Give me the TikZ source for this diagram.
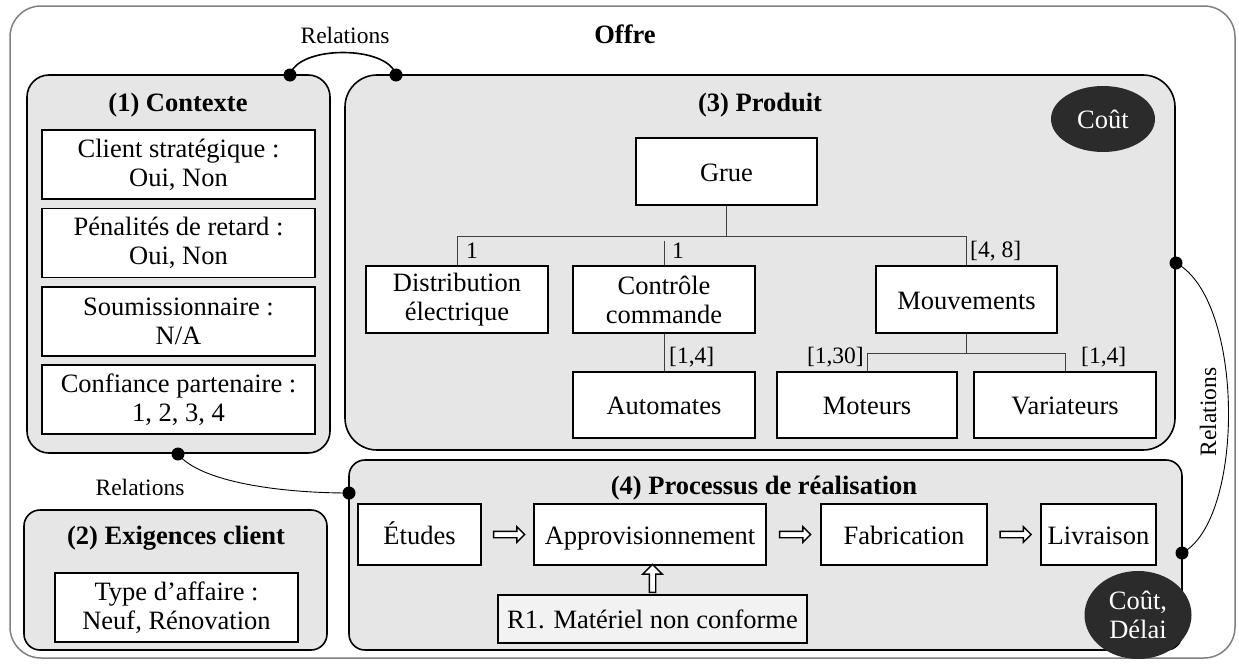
\documentclass[tikz,border=0pt]{standalone}
\usepackage{fontspec}
\setmainfont{Liberation Serif}
\usetikzlibrary{shapes.geometric,shapes.arrows,calc}
\definecolor{panelgray}{HTML}{E6E6E6}
\definecolor{outergray}{HTML}{808080}
\definecolor{darkell}{HTML}{2B2B2B}
\definecolor{linegray}{HTML}{404040}
\definecolor{riskfill}{HTML}{F2F2F2}
\begin{document}
\begin{tikzpicture}[x=1pt,y=-1pt,
  mainfont/.style={font=\fontsize{26.5}{29}\selectfont},
  smallfont/.style={font=\fontsize{23.5}{26}\selectfont},
  panel/.style={draw=black,line width=1.6pt,fill=panelgray,inner sep=0pt},
  itembox/.style={draw=black,line width=1.6pt,fill=white,inner sep=0pt,align=center,mainfont},
  oneline/.style={text height=24pt,text depth=5pt},
  ptitle/.style={font=\fontsize{26.5}{29}\selectfont\bfseries,inner sep=0pt},
  treeline/.style={draw=linegray,line width=1pt},
  card/.style={smallfont,inner sep=0pt},
  relthick/.style={draw=black,line width=1.6pt},
  relthin/.style={draw=black,line width=0.9pt},
  reldot/.style={circle,fill=black,inner sep=0pt,minimum size=13pt},
  costell/.style={ellipse,fill=darkell,text=white,mainfont,align=center,inner sep=0pt},
  fatarrow/.style={single arrow,draw=black,line width=1.4pt,fill=white,inner sep=0pt,
    text height=5pt,text depth=0pt,text width=0pt,
    single arrow head extend=4.5pt,single arrow head indent=0pt,minimum height=31pt},
  fatarrowup/.style={fatarrow,shape border rotate=90,text height=0pt,text width=5pt,
    single arrow head extend=6.5pt,minimum height=28pt}
]
\useasboundingbox (0,0) rectangle (1239,664);
\fill[white] (0,0) rectangle (1239,664);

% outer panel
\node[panel,draw=outergray,fill=white,line width=1.5pt,rounded corners=31pt,
  minimum width=1225pt,minimum height=652pt] (offre) at (622.5,332) {};
\node[ptitle] (offreT) at (625,34) {Offre};

% panels
\node[panel,rounded corners=22pt,minimum width=303pt,minimum height=378pt] (ctx) at (178.5,264) {};
\node[panel,rounded corners=16pt,minimum width=303pt,minimum height=140pt] (exi) at (175.5,580) {};
\node[panel,rounded corners=32pt,minimum width=830pt,minimum height=375pt] (prod) at (760,262.5) {};
\node[panel,rounded corners=16pt,minimum width=833pt,minimum height=190pt] (proc) at (765.5,555) {};

% titles
\node[ptitle] (ctxT) at (178,105) {(1) Contexte};
\node[ptitle] (exiT) at (176,538) {(2) Exigences client};
\node[ptitle] (prodT) at (760,105) {(3) Produit};
\node[ptitle] (procT) at (764,488) {(4) Processus de réalisation};

% contexte items
\node[itembox,minimum width=273pt,minimum height=69pt] (ctx1) at (178.5,164.5) {Client stratégique :\\Oui, Non};
\node[itembox,minimum width=273pt,minimum height=69pt] (ctx2) at (178.5,243) {Pénalités de retard :\\Oui, Non};
\node[itembox,minimum width=273pt,minimum height=69pt] (ctx3) at (178.5,321.5) {Soumissionnaire :\\N/A};
\node[itembox,minimum width=273pt,minimum height=69pt] (ctx4) at (178.5,399.5) {Confiance partenaire :\\1, 2, 3, 4};

% exigences item
\node[itembox,minimum width=243pt,minimum height=69pt] (exi1) at (176.5,607.5) {Type d’affaire :\\Neuf, Rénovation};

% product tree
\node[itembox,oneline,minimum width=181pt,minimum height=67pt] (grue) at (726.5,171.5) {Grue};
\node[itembox,minimum width=182pt,minimum height=67pt] (dist) at (457,299.5) {Distribution\\électrique};
\node[itembox,minimum width=182pt,minimum height=67pt] (ctrl) at (664,299.5) {Contrôle\\commande};
\node[itembox,oneline,minimum width=181pt,minimum height=67pt] (mouv) at (966.5,299.5) {Mouvements};
\node[itembox,oneline,minimum width=182pt,minimum height=66pt] (auto) at (664,405) {Automates};
\node[itembox,oneline,minimum width=180pt,minimum height=66pt] (mot) at (867,405) {Moteurs};
\node[itembox,oneline,minimum width=182pt,minimum height=66pt] (var) at (1065,405) {Variateurs};

\coordinate (gj) at ($(grue.south)+(0,31)$);
\draw[treeline] (grue.south) -- (gj);
\draw[treeline] (dist.north) -- (dist.north |- gj) -- (mouv.north |- gj) -- (mouv.north);
\draw[treeline] (ctrl.north) -- ($(ctrl.north |- gj)+(0,4)$);
\draw[treeline] (ctrl.south) -- (auto.north);
\coordinate (mj) at ($(mouv.south)+(0,20)$);
\draw[treeline] (mouv.south) -- (mj);
\draw[treeline] (mot.north) -- (mot.north |- mj) -- (var.north |- mj) -- (var.north);

\node[card,anchor=west] (l1) at (466,251) {1};
\node[card,anchor=west] (l2) at (672,251) {1};
\node[card,anchor=west] (l3) at (970,251) {[4, 8]};
\node[card,anchor=west] (l4) at (669,357) {[1,4]};
\node[card,anchor=east] (l5) at (864,357) {[1,30]};
\node[card,anchor=west] (l6) at (1081,357) {[1,4]};

\node[costell,minimum width=104pt,minimum height=66pt] (cout) at (1103,119) {Coût};

% process
\node[itembox,oneline,minimum width=123pt,minimum height=61pt] (etu) at (419.5,534.5) {Études};
\node[itembox,oneline,minimum width=232pt,minimum height=61pt] (appro) at (650,534.5) {Approvisionnement};
\node[itembox,oneline,minimum width=166pt,minimum height=61pt] (fab) at (904,534.5) {Fabrication};
\node[itembox,oneline,minimum width=115pt,minimum height=61pt] (liv) at (1098.5,534.5) {Livraison};
\node[itembox,oneline,fill=riskfill,minimum width=309pt,minimum height=48pt] (r1) at (652.5,619) {R1. Matériel non conforme};

\node[fatarrow] (a1) at ($(etu.east)!0.5!(appro.west)$) {};
\node[fatarrow] (a2) at ($(appro.east)!0.5!(fab.west)$) {};
\node[fatarrow] (a3) at ($(fab.east)!0.5!(liv.west)$) {};
\node[fatarrowup] (a4) at ($(r1.north)!0.5!(r1.north |- appro.south)$) {};

\node[costell,minimum width=107pt,minimum height=88pt] (cd) at (1138,615) {Coût,\\Délai};

% relations
\node[reldot] (dA) at (290,75) {};
\node[reldot] (dB) at (396,75) {};
\draw[relthick] (dA.center) .. controls (298,45) and (388,45) .. (dB.center);
\node[card] (relT) at (345,35) {Relations};

\node[reldot] (dC) at (178,454) {};
\node[reldot] (dD) at (349,493) {};
\draw[relthin] (dC.center) .. controls (200,482) and (280,493) .. (dD.center);
\node[card] (relL) at (140,487) {Relations};

\node[reldot] (dE) at (1176,263) {};
\node[reldot] (dF) at (1182,553) {};
\draw[relthin] (dE.center) .. controls (1245,300) and (1245,520) .. (dF.center);
\node[card,rotate=90] (relR) at (1208,412) {Relations};
\end{tikzpicture}
\end{document}
